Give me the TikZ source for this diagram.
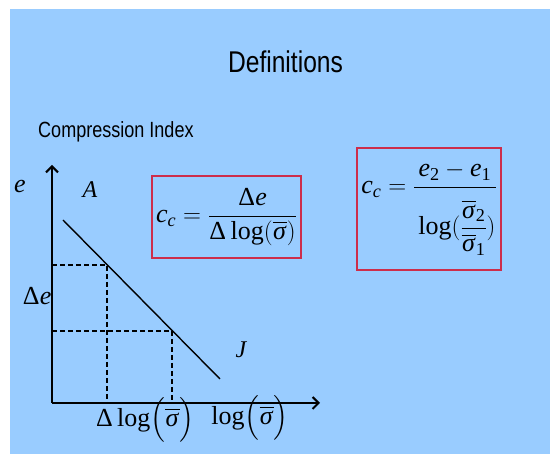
\documentclass[tikz,border=0pt]{standalone}
\usepackage{amsmath}
\usepackage{mathspec}
\setmathsfont(Digits,Latin,Greek){Liberation Serif}
\setmathrm{Liberation Serif}
\newfontfamily\slidefont[FakeStretch=0.82]{Liberation Sans}
\usetikzlibrary{arrows.meta}

\definecolor{slideblue}{RGB}{153,204,255}
\definecolor{boxred}{RGB}{205,45,75}

\begin{document}
\begin{tikzpicture}[x=1pt,y=-1pt,
    formula/.style={inner sep=0pt,font=\fontsize{26}{30}\selectfont},
    pointlabel/.style={inner sep=0pt,font=\fontsize{24}{28}\selectfont},
    redbox/.style={draw=boxred,line width=1.8pt},
    axis/.style={line width=2pt,-{Straight Barb[length=6pt,width=12pt]}},
    guide/.style={dashed,line width=1.2pt,dash pattern=on 5pt off 3pt}]

        % Slide background
        \useasboundingbox (0,0) rectangle (550,454);
        \fill[slideblue] (10,9) rectangle (550,454);

        % Headings
        \node[anchor=base,inner sep=0pt,font=\slidefont\fontsize{30}{34}\selectfont]
            (title) at (285.5,73) {Definitions};
        \node[anchor=base west,inner sep=0pt,font=\slidefont\fontsize{22}{26}\selectfont]
            (subtitle) at (38,138) {Compression Index};

        % Axes
        \coordinate (origin) at (52,403);
        \coordinate (ytip) at (52,165);
        \coordinate (xtip) at (320,403);
        \draw[axis] (origin) -- (ytip);
        \draw[axis] (origin) -- (xtip);

        % Virgin compression line
        \coordinate (lineA) at (63,220);
        \coordinate (lineJ) at (220,379);
        \draw[line width=1.4pt] (lineA) -- (lineJ);

        % Dashed construction
        \coordinate (upper) at (107,265);
        \coordinate (lower) at (172,331);
        \draw[guide] (origin |- upper) -- (upper) -- (upper |- origin);
        \draw[guide] (origin |- lower) -- (lower) -- (lower |- origin);

        % Axis and line labels
        \node[formula] (elabel) at (20,187) {$e$};
        \node[formula] (delabel) at (37,296) {$\Delta e$};
        \node[pointlabel] (Alabel) at (90,190) {$A$};
        \node[pointlabel] (Jlabel) at (241,350) {$J$};
        \node[formula] (dloglabel) at (145,420)
            {$\Delta\log\Bigl(\overline{\sigma}\Bigr)$};
        \node[formula] (loglabel) at (250,418)
            {$\log\Bigl(\overline{\sigma}\Bigr)$};

        % Definitions
        \node[formula,redbox,minimum width=149pt,minimum height=82pt]
            (ccdef) at (226.5,217)
            {$c_c = \dfrac{\Delta e}{\Delta\log(\overline{\sigma})}$};
        \node[formula,redbox,minimum width=144pt,minimum height=122pt]
            (ccratio) at (429,209)
            {$c_c = \dfrac{e_2 - e_1}{\rule{0pt}{44pt}\log(\dfrac{\overline{\sigma}_2}{\overline{\sigma}_1})}$};

    \end{tikzpicture}
\end{document}
